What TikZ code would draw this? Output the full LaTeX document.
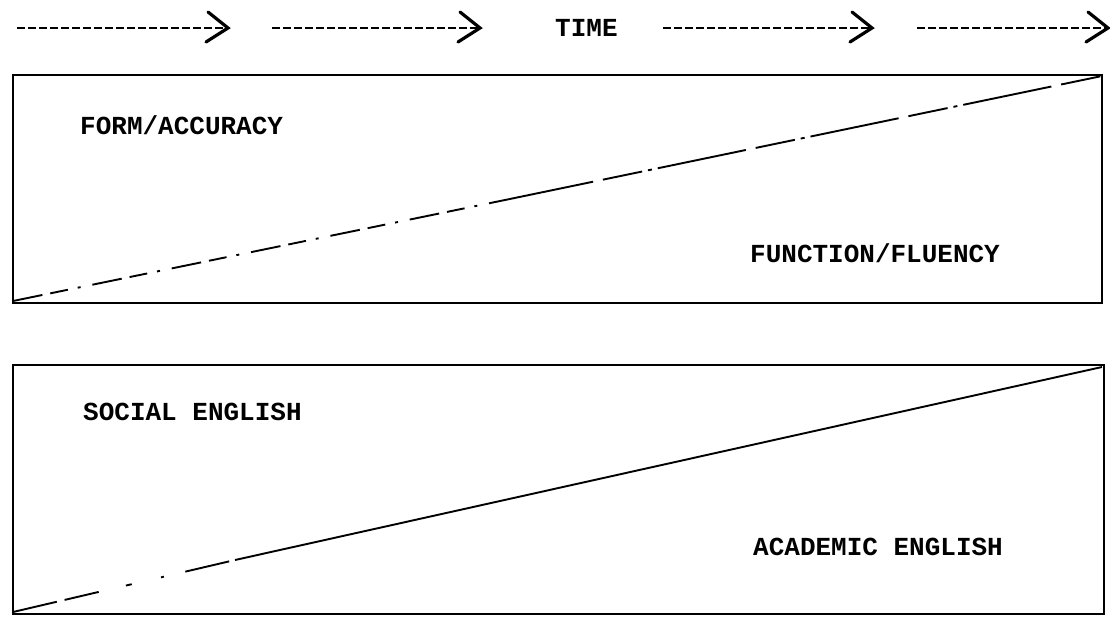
\documentclass[tikz,border=0pt]{standalone}
\usepackage{fontspec}
\setmonofont{Liberation Mono}
\begin{document}
\begin{tikzpicture}[x=1pt,y=-1pt,
  lbl/.style={font=\ttfamily\bfseries\fontsize{26}{30}\selectfont, inner sep=0pt},
  tline/.style={line width=2.6pt, dash pattern=on 8pt off 3pt},
  thead/.style={line width=3.2pt, line cap=round, line join=miter},
  frame/.style={line width=1.8pt},
  diag/.style={line width=1.9pt},
]
\useasboundingbox (0,0) rectangle (1110,616);
% time arrows
\foreach \n/\a/\b in {1/17/228, 2/272/480, 3/663/872, 4/917/1108}{
  \coordinate (s\n) at (\a,28);
  \coordinate (e\n) at (\b,28);
  \draw[tline] (s\n) -- ([xshift=-3pt]e\n);
  \draw[thead] ([xshift=-22pt,yshift=-14pt]e\n) -- (e\n) -- ([xshift=-20pt,yshift=16pt]e\n);
}
\node[lbl, anchor=west] (time) at (555,28) {TIME};

% box 1
\coordinate (b1tl) at (13,75);
\coordinate (b1br) at (1102,303);
\draw[frame] (b1tl) rectangle (b1br);
\coordinate (d1s) at (13,301);
\coordinate (d1m) at (505,200);
\coordinate (d1e) at (1102,76);
\draw[diag, dash pattern=on 30pt off 8pt on 18pt off 10pt on 3pt off 12pt] (d1s) -- (d1m);
\draw[diag, dash pattern=on 90pt off 10pt on 40pt off 6pt on 4pt off 6pt] (d1m) -- (d1e);
\node[lbl, anchor=west] (fa) at (80,125) {FORM/ACCURACY};
\node[lbl, anchor=west] (ff) at (750,253) {FUNCTION/FLUENCY};

% box 2
\coordinate (b2tl) at (13,365);
\coordinate (b2br) at (1104,614);
\draw[frame] (b2tl) rectangle (b2br);
\coordinate (d2s) at (13,612);
\coordinate (d2m) at (235,560);
\coordinate (d2e) at (1102,367);
\draw[diag, dash pattern=on 45pt off 8pt on 35pt off 28pt on 6pt off 30pt on 3pt off 22pt] (d2s) -- (d2m);
\draw[diag] (d2m) -- (d2e);
\node[lbl, anchor=west] (se) at (83,412) {SOCIAL ENGLISH};
\node[lbl, anchor=west] (ae) at (753,547) {ACADEMIC ENGLISH};
\end{tikzpicture}
\end{document}
